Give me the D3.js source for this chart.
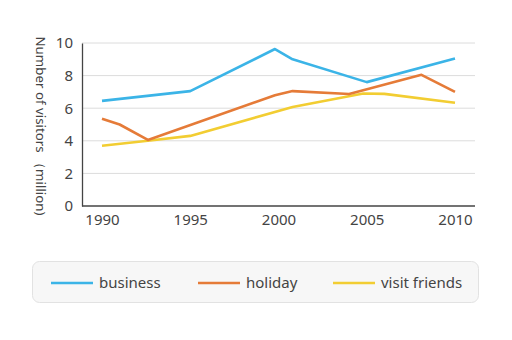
<!DOCTYPE html>
<html><head><meta charset="utf-8">
<script src="https://cdn.jsdelivr.net/npm/d3@7"></script>
<style>
html,body{margin:0;padding:0;background:#fff;}
svg{display:block;font-family:"Noto Sans",Roboto,sans-serif;}
</style></head>
<body><svg id="c" width="512" height="340"></svg>
<script>
const seriesNames = ["business", "holiday", "visit friends"];
const seriesColors = ["#3bb4e7", "#e57b38", "#f2cd32"];
const businessYears = [1990, 1995, 1999.8, 2000.8, 2005, 2010];
const businessValues = [6.45, 7.05, 9.63, 9.0, 7.6, 9.05];
const holidayYears = [1990, 1991, 1992.6, 1999.8, 2000.8, 2004, 2008.1, 2010];
const holidayValues = [5.35, 5.0, 4.05, 6.8, 7.05, 6.87, 8.05, 7.0];
const friendsYears = [1990, 1992.6, 1995, 2000.8, 2004.8, 2006, 2010];
const friendsValues = [3.7, 4.0, 4.3, 6.07, 6.9, 6.88, 6.33];
const xTicks = [1990, 1995, 2000, 2005, 2010];
const yTicks = [0, 2, 4, 6, 8, 10];
const yTitle = "Number of visitors （million)";

(function () {
const svg = d3.select("#c");
const pl = 82, pr = 475, pt = 43, pb = 206;
const x = d3.scaleLinear().domain([1990, 2010]).range([102, 455]);
const y = d3.scaleLinear().domain([0, 10]).range([pb, pt]);
const ff = "'Noto Sans',Roboto,sans-serif";

svg.append("g").selectAll("line").data(yTicks.filter(d => d > 0)).join("line")
  .attr("x1", pl).attr("x2", pr)
  .attr("y1", d => y(d)).attr("y2", d => y(d))
  .attr("stroke", "#dcdcdc").attr("stroke-width", 1);

const ya = svg.append("g").attr("transform", `translate(${pl},0)`)
  .call(d3.axisLeft(y).tickValues(yTicks).tickSize(0).tickPadding(9));
ya.select(".domain").attr("stroke", "#444").attr("stroke-width", 1.3);
ya.selectAll("text").attr("font-size", 15).attr("fill", "#444").attr("font-family", ff);

const xa = svg.append("g").attr("transform", `translate(0,${pb})`)
  .call(d3.axisBottom(x).tickValues(xTicks).tickFormat(d3.format("d")).tickSize(0).tickPadding(8));
xa.select(".domain").attr("d", `M${pl},0H${pr}`).attr("stroke", "#444").attr("stroke-width", 1.3);
xa.selectAll("text").attr("font-size", 15).attr("fill", "#444").attr("font-family", ff);

svg.append("text").attr("transform", `translate(36,${(37 + 215) / 2}) rotate(90)`)
  .attr("text-anchor", "middle").attr("font-size", 13.3).attr("fill", "#444")
  .text(yTitle);

const data = [
  businessYears.map((yr, i) => [yr, businessValues[i]]),
  holidayYears.map((yr, i) => [yr, holidayValues[i]]),
  friendsYears.map((yr, i) => [yr, friendsValues[i]])
];
const line = d3.line().x(d => x(d[0])).y(d => y(d[1]));
[2, 1, 0].forEach(i => {
  svg.append("path").attr("d", line(data[i])).attr("fill", "none")
    .attr("stroke", seriesColors[i]).attr("stroke-width", 2.6)
    .attr("stroke-linejoin", "round").attr("stroke-linecap", "butt");
});

svg.append("rect").attr("x", 32.5).attr("y", 261.5).attr("width", 446).attr("height", 41)
  .attr("rx", 7).attr("fill", "#f7f7f7").attr("stroke", "#e2e2e2");
const legX = [51, 198, 333];
seriesNames.forEach((n, i) => {
  svg.append("line").attr("x1", legX[i]).attr("x2", legX[i] + 42)
    .attr("y1", 283).attr("y2", 283).attr("stroke", seriesColors[i]).attr("stroke-width", 2.6);
  svg.append("text").attr("x", legX[i] + 48).attr("y", 283).attr("dy", "0.35em")
    .attr("font-size", 15).attr("fill", "#444").text(n);
});
})();
</script></body></html>
